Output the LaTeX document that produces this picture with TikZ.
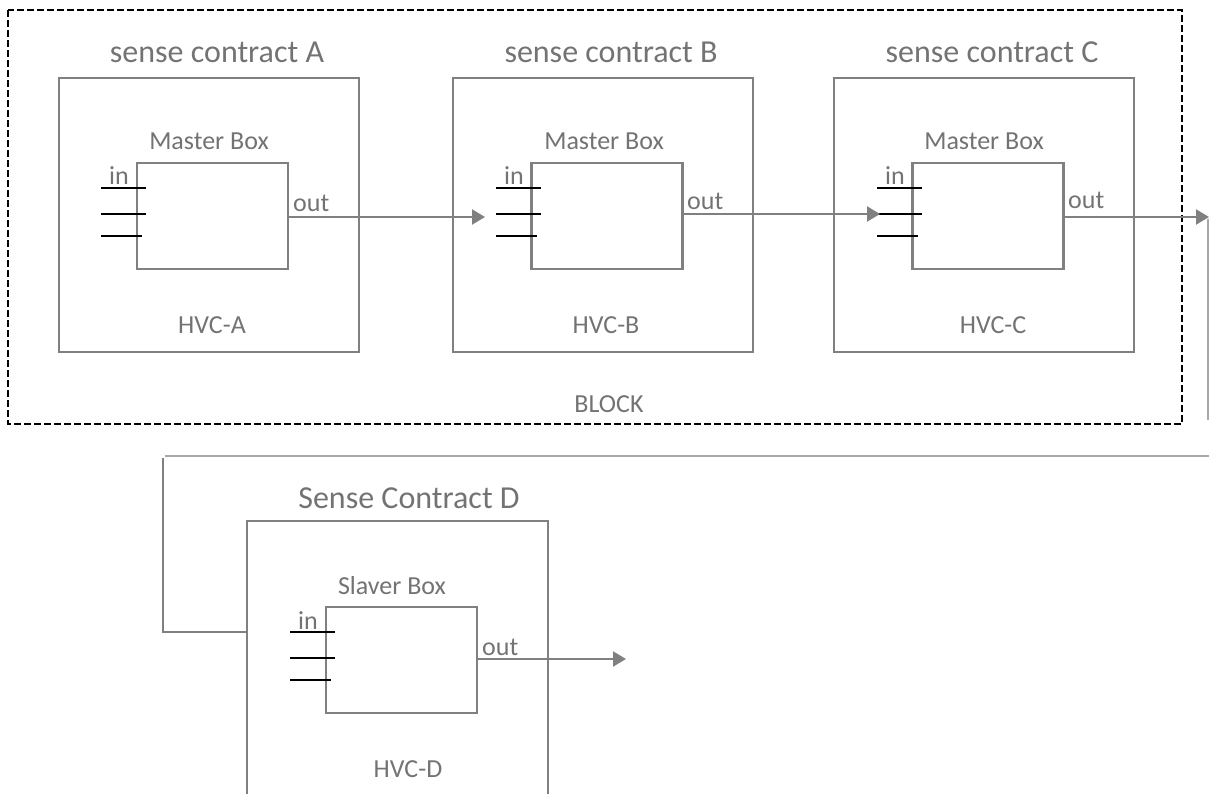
\documentclass[tikz,border=0pt]{standalone}
\usepackage{fontspec}
\setmainfont{Carlito}
\usetikzlibrary{arrows.meta}
\definecolor{boxgray}{HTML}{808080}
\definecolor{txtgray}{HTML}{737373}
\definecolor{thingray}{HTML}{A8A8A8}
\begin{document}
\begin{tikzpicture}[x=1pt,y=-1pt,
  outerbox/.style={draw=boxgray,line width=2.2pt,minimum width=300pt,minimum height=274pt,inner sep=0pt,outer sep=0pt},
  innerbox/.style={draw=boxgray,line width=2.2pt,minimum width=151pt,minimum height=106pt,inner sep=0pt,outer sep=0pt},
  titletext/.style={text=txtgray,font=\fontsize{32}{32}\selectfont,inner sep=0pt,anchor=base},
  lbltext/.style={text=txtgray,font=\fontsize{26}{26}\selectfont,inner sep=0pt,anchor=base},
  pinline/.style={black,line width=1.1pt},
  conn/.style={draw=boxgray,line width=2.2pt,-{Triangle[length=13pt,width=15pt]}},
  thinconn/.style={draw=thingray,line width=1.3pt},
  plainconn/.style={draw=boxgray,line width=2pt},
  blockline/.style={draw=black,line width=2.4pt,dash pattern=on 7pt off 3pt}
]
\useasboundingbox (0,0) rectangle (1209,794);
\clip (0,0) rectangle (1209,794);

% dashed block
\draw[blockline] (8,10) rectangle (1182,424);
\node[lbltext] (blocklbl) at (609,412) {BLOCK};

% outer boxes
\node[outerbox] (A) at (209,215) {};
\node[outerbox] (B) at (603,215) {};
\node[outerbox] (C) at (984,215) {};
\node[outerbox,minimum width=301pt,minimum height=309pt] (D) at (397.5,675.5) {};

% titles
\node[titletext] (tA) at (217,63) {sense contract A};
\node[titletext] (tB) at (611,63) {sense contract B};
\node[titletext] (tC) at (992,63) {sense contract C};
\node[titletext] (tD) at (409,508) {Sense Contract D};

% inner boxes
\node[innerbox] (mA) at (212.5,216) {};
\node[innerbox] (mB) at (607,216) {};
\node[innerbox] (mC) at (988,216) {};
\node[innerbox] (sD) at (401.5,660) {};

\node[lbltext] (mAl) at (209,150) {Master Box};
\node[lbltext] (mBl) at (604,150) {Master Box};
\node[lbltext] (mCl) at (984,150) {Master Box};
\node[lbltext] (sDl) at (392,594) {Slaver Box};

\node[lbltext] (hA) at (212,333) {HVC-A};
\node[lbltext] (hB) at (606,333) {HVC-B};
\node[lbltext] (hC) at (993,333) {HVC-C};
\node[lbltext] (hD) at (408,777) {HVC-D};

% in pins and labels
\foreach \n/\x/\y in {A/137/163, B/532/163, C/913/163, D/326/607}{
  \draw[pinline] (\x-36,\y+25) -- (\x+9,\y+25);
  \draw[pinline] (\x-36,\y+51) -- (\x+9,\y+51);
  \draw[pinline] (\x-36,\y+73) -- (\x+5,\y+73);
  \node[lbltext,anchor=base west] (in\n) at (\x-28,\y+22) {in};
}

% out labels
\node[lbltext,anchor=base west] (oA) at (293,212) {out};
\node[lbltext,anchor=base west] (oB) at (687,210) {out};
\node[lbltext,anchor=base west] (oC) at (1068,209) {out};
\node[lbltext,anchor=base west] (oD) at (482,655) {out};

% connectors
\coordinate (tipAB) at (485,217);
\coordinate (tipBC) at (880,214);
\coordinate (tipCout) at (1209,217);
\coordinate (tipDout) at (626,659);
\draw[conn] (mA.east |- tipAB) -- (tipAB);
\draw[conn] (mB.east |- tipBC) -- (tipBC);
\draw[conn] (mC.east |- tipCout) -- (tipCout);
\draw[conn] (sD.east |- tipDout) -- (tipDout);

\coordinate (r1) at (1208,219);
\coordinate (r2) at (1208,420);
\draw[thinconn] (r1) -- (r2);
\coordinate (h1) at (165,456);
\coordinate (h2) at (1209,456);
\draw[thinconn] (h1) -- (h2);
\coordinate (l1) at (163,458);
\coordinate (l2) at (163,632);
\draw[plainconn] (l1) -- (l2) -- (D.west |- l2);
\end{tikzpicture}
\end{document}
